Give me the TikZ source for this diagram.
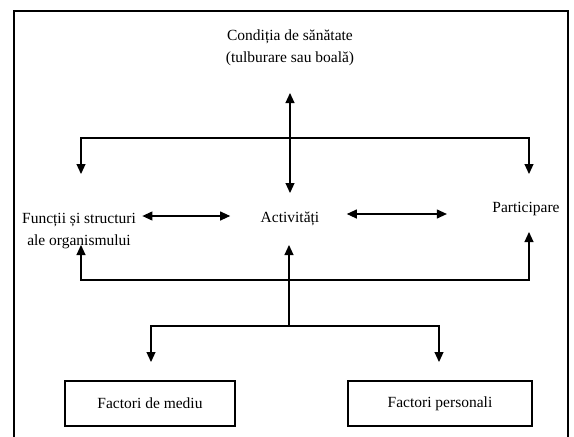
\documentclass[tikz,border=0pt]{standalone}
\usepackage{fontspec}
\setmainfont{Liberation Serif}
\usetikzlibrary{arrows.meta}
\begin{document}
\begin{tikzpicture}[x=1pt,y=-1pt, line width=1.1pt,
  >={Triangle[length=10pt,width=9pt]},
  lbl/.style={align=center, font=\fontsize{15.5}{22}\selectfont, inner sep=0pt},
  fbox/.style={draw, line width=1.3pt, minimum height=45pt, inner sep=0pt, font=\fontsize{15.5}{18}\selectfont}]
\useasboundingbox (0,0) rectangle (574,437);
\draw[line width=1.6pt] (14,437) -- (14,11) -- (568,11) -- (568,437);
\node[lbl] (cond) at (290,48) {Condiția de sănătate\\(tulburare sau boală)};
\node[lbl] (func) at (79,231) {Funcții și structuri\\ale organismului};
\node[lbl] (act) at (290,219) {Activități};
\node[lbl] (part) at (526,209) {Participare};
\node[fbox, minimum width=170pt] (med) at (150,403.5) {Factori de mediu};
\node[fbox, minimum width=184pt] (pers) at (440,403.5) {Factori personali};
% top
\draw[<->] (cond.south |- 0,93) -- (act.north |- 0,193);
\coordinate (j1) at (289,138);
\draw[->] (j1) -| ([xshift=2pt]func.north |- 0,174);
\draw[->] (j1) -| ([xshift=3pt]part.north |- 0,174);
% middle
\draw[<->] ([xshift=6pt]func.east |- 0,216) -- ([xshift=-30pt]act.west |- 0,216);
\draw[<->] ([xshift=27pt]act.east |- 0,214) -- ([xshift=-45pt]part.west |- 0,214);
% lower
\coordinate (j2) at (289,280);
\draw[->] (j2) -| ([xshift=2pt]func.south |- 0,245);
\draw[->] (j2) -| ([xshift=3pt]part.south |- 0,232);
\draw[->] (j2 |- 0,326) coordinate (j3) -- (j2 |- 0,245);
\draw[->] (j3) -| ([xshift=1pt]med.north |- 0,362);
\draw[->] (j3) -| ([xshift=-1pt]pers.north |- 0,362);
\end{tikzpicture}
\end{document}
